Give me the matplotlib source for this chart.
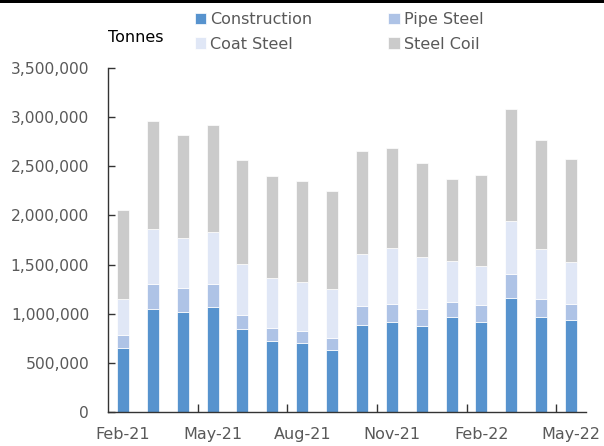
import matplotlib.pyplot as plt
import numpy as np
from matplotlib.ticker import FuncFormatter, FixedLocator
from matplotlib.patches import Rectangle

months = ['Feb-21', 'Mar-21', 'Apr-21', 'May-21', 'Jun-21', 'Jul-21', 'Aug-21', 'Sep-21',
          'Oct-21', 'Nov-21', 'Dec-21', 'Jan-22', 'Feb-22', 'Mar-22', 'Apr-22', 'May-22']
construction = [652000, 1053000, 1018000, 1069000, 842000, 723000, 707000, 631000,
                886000, 916000, 870000, 967000, 916000, 1161000, 967000, 937000]
pipe_steel = [129000, 250000, 245000, 234000, 146000, 132000, 118000, 123000,
              193000, 184000, 173000, 153000, 174000, 244000, 184000, 160000]
coat_steel = [367000, 554000, 503000, 524000, 513000, 510000, 499000, 495000,
              530000, 564000, 532000, 415000, 394000, 537000, 509000, 434000]
steel_coil = [909000, 1103000, 1052000, 1093000, 1065000, 1032000, 1025000, 998000,
              1046000, 1021000, 954000, 831000, 926000, 1137000, 1104000, 1039000]
label_months = ['Feb-21', 'May-21', 'Aug-21', 'Nov-21', 'Feb-22', 'May-22']

plt.rcParams['font.family'] = ['DejaVu Sans']

fig = plt.figure(figsize=(6.04, 4.46), dpi=100)
ax = fig.add_axes([108 / 604, 34 / 446, 478 / 604, 344 / 446])

x = np.arange(len(months))
w = 0.4
ec = 'white'
lw = 0.5
b1 = ax.bar(x, construction, w, color='#5793CE', edgecolor=ec, linewidth=lw, label='Construction')
bottom = np.array(construction)
b2 = ax.bar(x, pipe_steel, w, bottom=bottom, color='#AEC3E6', edgecolor=ec, linewidth=lw, label='Pipe Steel')
bottom = bottom + np.array(pipe_steel)
b3 = ax.bar(x, coat_steel, w, bottom=bottom, color='#E0E7F6', edgecolor=ec, linewidth=lw, label='Coat Steel')
bottom = bottom + np.array(coat_steel)
b4 = ax.bar(x, steel_coil, w, bottom=bottom, color='#CBCBCB', edgecolor=ec, linewidth=lw, label='Steel Coil')

ax.set_xlim(-0.5, len(months) - 0.5)
ax.set_ylim(0, 3500000)
ax.set_yticks(np.arange(0, 3500001, 500000))
ax.yaxis.set_major_formatter(FuncFormatter(lambda v, p: f'{int(v):,}'))

label_pos = [months.index(m) for m in label_months]
ax.set_xticks(label_pos)
ax.set_xticklabels(label_months)
ax.xaxis.set_minor_locator(FixedLocator([2.5, 5.5, 8.5, 11.5, 14.5]))

ax.tick_params(axis='x', which='major', length=0, pad=11, labelsize=11.5, labelcolor='#595959')
ax.tick_params(axis='x', which='minor', direction='in', length=6, width=1, color='#333333')
ax.tick_params(axis='y', direction='in', length=5, width=1, pad=13.5, labelsize=11.2,
               labelcolor='#595959', color='#333333')

for s in ['top', 'right']:
    ax.spines[s].set_visible(False)
for s in ['left', 'bottom']:
    ax.spines[s].set_color('#333333')
    ax.spines[s].set_linewidth(1)

fig.text(108 / 604, 1 - 38 / 446, 'Tonnes', fontsize=11.5, color='black', va='center', ha='left')

fig.legend([b1, b3, b2, b4], ['Construction', 'Coat Steel', 'Pipe Steel', 'Steel Coil'],
           ncol=2, loc='upper left', bbox_to_anchor=(195 / 604, 1 - 12 / 446),
           frameon=False, fontsize=11.5, handlelength=0.69, handleheight=0.69,
           handletextpad=0.28, columnspacing=4.75, labelspacing=0.6, borderpad=0,
           borderaxespad=0, labelcolor='#595959')

# thin dark strip along the top edge, as in the reference image
fig.add_artist(Rectangle((0, 1 - 3 / 446), 1, 3 / 446, transform=fig.transFigure,
                         color='black', linewidth=0))

plt.savefig('out.png', dpi=100)
